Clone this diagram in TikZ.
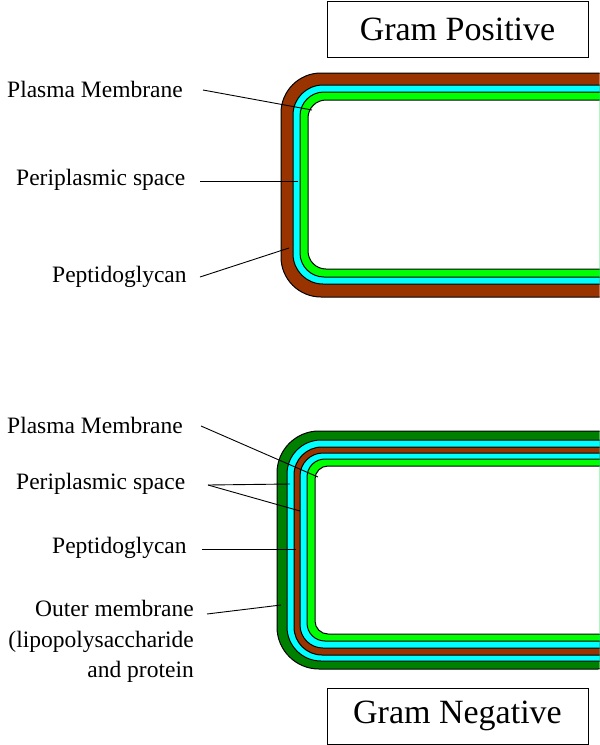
\documentclass[tikz,border=0pt]{standalone}
\usepackage{fontspec}
\setmainfont{Liberation Serif}
\begin{document}
\begin{tikzpicture}[x=1pt,y=-1pt,
  lab/.style={font=\fontsize{23.5}{28}\selectfont,inner sep=0pt},
  ttl/.style={draw,line width=0.8pt,minimum width=261pt,minimum height=56pt,font=\fontsize{34}{38}\selectfont},
  ptr/.style={line width=0.9pt}]
\useasboundingbox (0,0) rectangle (600,745);
\definecolor{brn}{RGB}{153,51,0}
\definecolor{cy}{RGB}{0,255,255}
\definecolor{gr}{RGB}{0,255,0}
\definecolor{dg}{RGB}{0,128,0}
\newcommand{\layer}[6]{\draw[line width=1pt,fill=#1,rounded corners=#6] (640,#3) -- (#2,#3) -- (#2,#4) -- (640,#4) -- cycle;}
\begin{scope}
\clip (0,0) rectangle (599.5,745);
% Gram positive
\layer{brn}{281}{73}{297}{}{40}
\layer{cy}{293}{85}{284}{}{30}
\layer{gr}{300}{92}{277}{}{24}
\layer{white}{308}{100}{269}{}{18}
% Gram negative
\layer{dg}{277}{431}{669}{}{42}
\layer{cy}{287}{440}{661}{}{34}
\layer{brn}{294}{447}{655}{}{28}
\layer{cy}{300}{453}{648}{}{23}
\layer{gr}{307}{459}{641}{}{18}
\layer{white}{315}{466}{634}{}{13}
\end{scope}
\node[ttl] (t1) at (457.5,29.5) {Gram Positive};
\node[ttl] (t2) at (457.5,716) {Gram Negative};
% labels top
\node[lab,anchor=west] (a1) at (7,89) {Plasma Membrane};
\node[lab,anchor=west] (a2) at (16,180) {Periplasmic space};
\node[lab,anchor=west] (a3) at (52,277) {Peptidoglycan};
\coordinate (p1) at (312,110);
\coordinate (p2) at (298,181);
\coordinate (p3) at (289,248);
\draw[ptr] (203,90) -- (p1);
\draw[ptr] (200,181) -- (p2);
\draw[ptr] (200,277) -- (p3);
% labels bottom
\node[lab,anchor=west] (b1) at (7,425) {Plasma Membrane};
\node[lab,anchor=west] (b2) at (16,484) {Periplasmic space};
\node[lab,anchor=west] (b3) at (52,548) {Peptidoglycan};
\node[lab,anchor=north east,align=right,font=\fontsize{23.5}{30.5}\selectfont] (b4) at (194,600) {Outer membrane\\(lipopolysaccharide\\and protein};
\coordinate (q1) at (318,477);
\coordinate (q2a) at (290,484);
\coordinate (q2b) at (300,511);
\coordinate (q3) at (296,549);
\coordinate (q4) at (281,605);
\draw[ptr] (201,426) -- (q1);
\draw[ptr] (208,485) -- (q2a);
\draw[ptr] (208,485) -- (q2b);
\draw[ptr] (202,549) -- (q3);
\draw[ptr] (207,614) -- (q4);
\end{tikzpicture}
\end{document}
